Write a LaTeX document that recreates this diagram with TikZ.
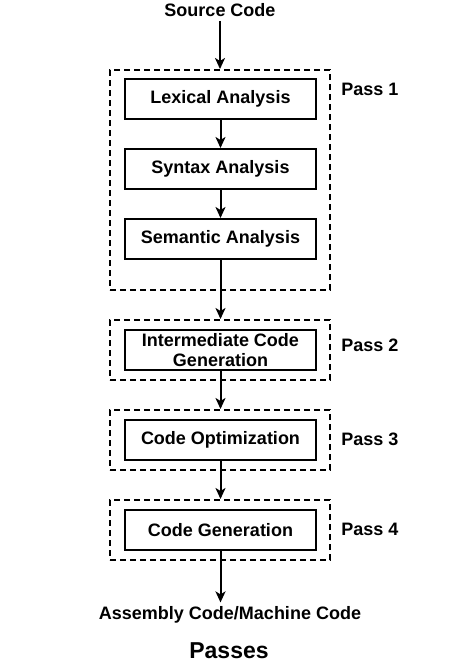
\documentclass[tikz,border=0pt]{standalone}
\usepackage{fontspec}
\setmainfont{Liberation Sans}
\usetikzlibrary{positioning,arrows.meta}
\tikzset{
  stage/.style={draw,line width=2pt,minimum width=191pt,minimum height=40pt,
    align=center,inner sep=0pt,font=\fontsize{18pt}{20pt}\selectfont\bfseries},
  passbox/.style={draw,line width=2pt,dash pattern=on 6pt off 4pt,
    minimum width=220pt,inner sep=0pt},
  flow/.style={-{Stealth[length=11pt,width=10pt,inset=3pt]},line width=2pt},
  lbl/.style={inner sep=4pt,font=\fontsize{18pt}{20pt}\selectfont\bfseries},
}
\begin{document}
\begin{tikzpicture}[x=1pt,y=-1pt]
  \useasboundingbox (0,0) rectangle (461,665);
  % pass frames
  \node[passbox,minimum height=220pt] (p1) at (220,180) {};
  \node[passbox,minimum height=60pt] (p2) at (220,350) {};
  \node[passbox,minimum height=60pt] (p3) at (220,440) {};
  \node[passbox,minimum height=60pt] (p4) at (220,530) {};
  % phases
  \node[stage] (lex) at (220.5,99) {Lexical Analysis};
  \node[stage] (syn) at (220.5,169) {Syntax Analysis};
  \node[stage] (sem) at (220.5,239) {Semantic Analysis};
  \node[stage] (icg) at (220.5,350) {Intermediate Code\\Generation};
  \node[stage] (opt) at (220.5,440) {Code Optimization};
  \node[stage] (gen) at (220.5,530) {Code Generation};
  % texts
  \node[lbl] (src) at (220,10) {Source Code};
  \node[lbl] (out) at (230,615) {Assembly Code/Machine Code};
  \node[lbl,font=\fontsize{23pt}{26pt}\selectfont\bfseries] (title) at (229,651) {Passes};
  \node[lbl] (l1) at (370,89) {Pass 1};
  \node[lbl] (l2) at (370,345) {Pass 2};
  \node[lbl] (l3) at (370,439) {Pass 3};
  \node[lbl] (l4) at (370,529) {Pass 4};
  % arrows
  \draw[flow] (src) -- (p1.north);
  \draw[flow] (lex) -- (syn);
  \draw[flow] (syn) -- (sem);
  \draw[flow] (sem.south) -- (sem.south |- p2.north);
  \draw[flow] (icg.south) -- (icg.south |- p3.north);
  \draw[flow] (opt.south) -- (opt.south |- p4.north);
  \draw[flow] (gen.south) -- (gen.south |- out.north);
\end{tikzpicture}
\end{document}
